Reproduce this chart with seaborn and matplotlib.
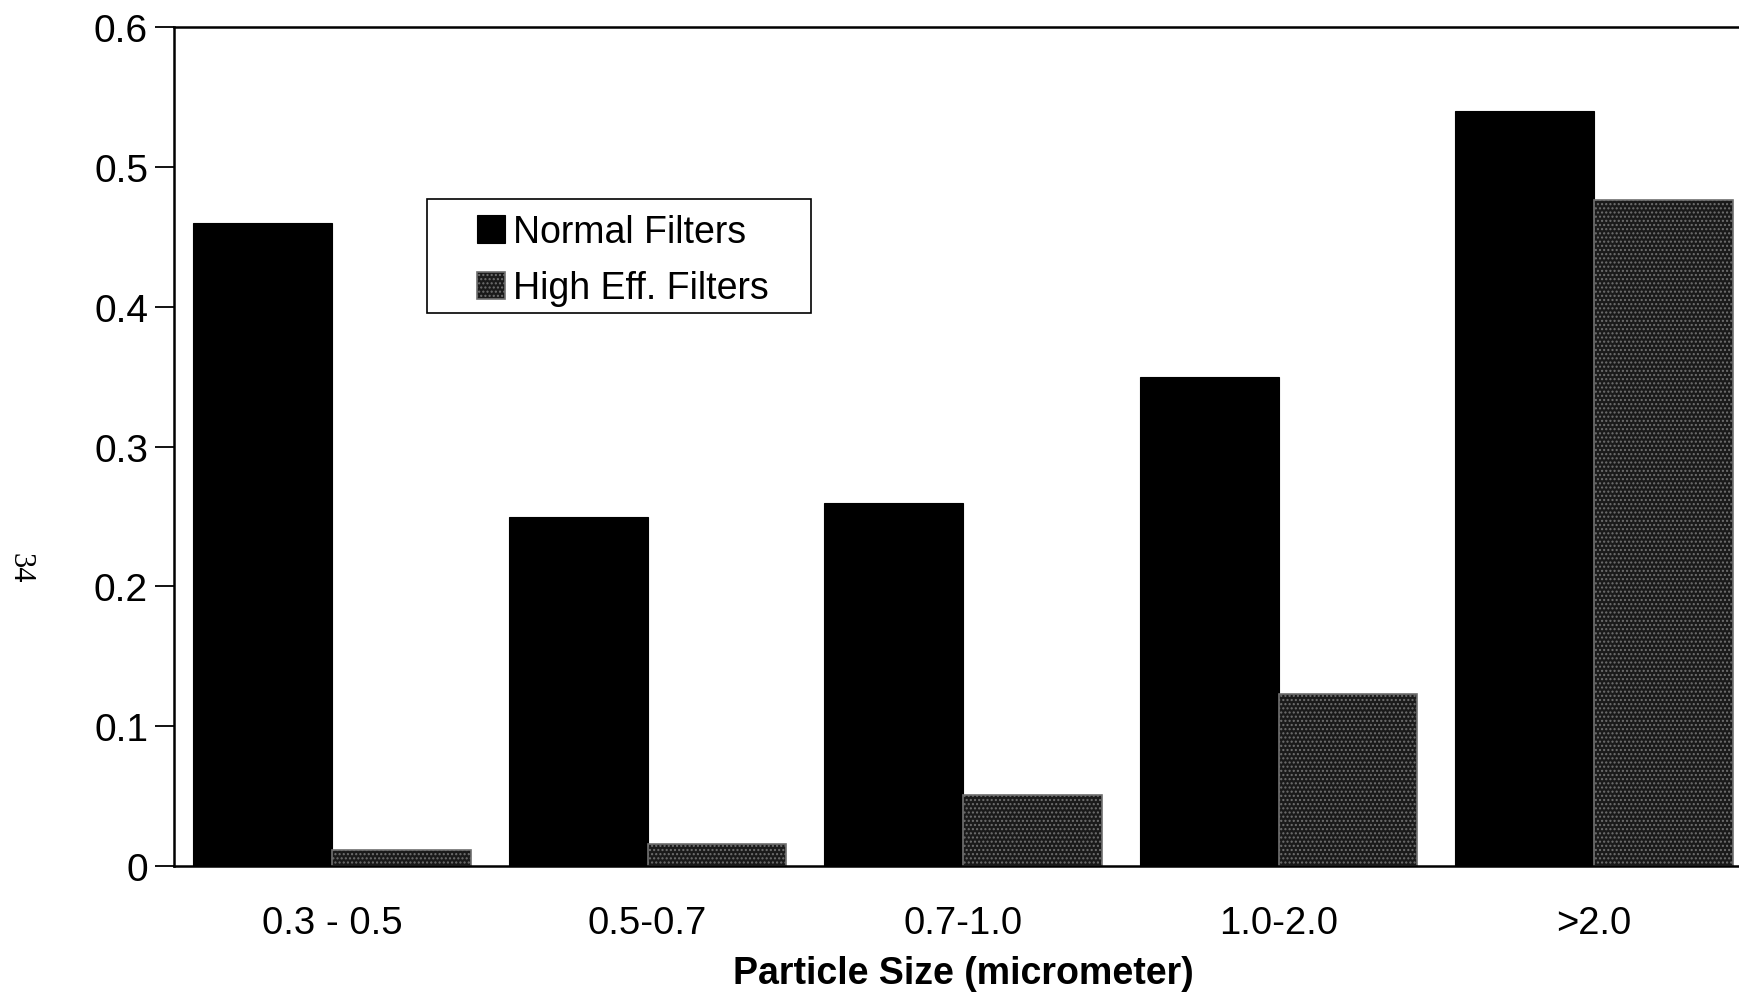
import matplotlib
matplotlib.use("Agg")
import matplotlib.pyplot as plt
from matplotlib.patches import Rectangle
import seaborn as sns
import pandas as pd

categories = ["0.3 - 0.5", "0.5-0.7", "0.7-1.0", "1.0-2.0", ">2.0"]
normal_filters = [0.46, 0.25, 0.26, 0.35, 0.54]
high_eff_filters = [0.012, 0.016, 0.051, 0.123, 0.476]
series_names = ["Normal Filters", "High Eff. Filters"]
y_ticks = [0, 0.1, 0.2, 0.3, 0.4, 0.5, 0.6]
y_tick_labels = ["0", "0.1", "0.2", "0.3", "0.4", "0.5", "0.6"]

sns.set_theme(style="white")
plt.rcParams["font.family"] = ["Liberation Sans", "DejaVu Sans"]
plt.rcParams["text.color"] = "black"

df = pd.DataFrame({
    "size": categories * 2,
    "value": normal_filters + high_eff_filters,
    "filter": [series_names[0]] * len(categories) + [series_names[1]] * len(categories),
})

fig = plt.figure(figsize=(17.39, 9.95), dpi=100)
ax = fig.add_axes([0.1003, 0.1283, 0.907, 0.8438])

sns.barplot(data=df, x="size", y="value", hue="filter", hue_order=series_names,
            order=categories, palette=["#000000", "#1a1a1a"], saturation=1,
            width=0.88, gap=0, ax=ax, edgecolor="#000000", linewidth=0.8)

n = len(categories)
for i, p in enumerate(ax.patches):
    if n <= i < 2 * n:
        p.set_hatch("....")
        p.set_edgecolor("#707070")
        p.set_linewidth(1.2)

ax.set_xlim(-0.5, 4.5)
ax.set_ylim(0, 0.6)
ax.set_yticks(y_ticks)
ax.set_yticklabels(y_tick_labels)
ax.tick_params(axis="y", which="both", left=True, length=14, width=1.3, color="black",
               labelsize=28, pad=5, direction="out")
ax.tick_params(axis="x", length=0, labelsize=27.5, pad=28)
for lab in ax.get_xticklabels() + ax.get_yticklabels():
    lab.set_color("black")

ax.set_xlabel("Particle Size (micrometer)", fontsize=27, fontweight="bold", labelpad=10, color="black")
ax.set_ylabel("")

for side in ["left", "top", "bottom"]:
    ax.spines[side].set_visible(True)
    ax.spines[side].set_color("black")
    ax.spines[side].set_linewidth(1.8)
ax.spines["right"].set_visible(False)

if ax.get_legend() is not None:
    ax.get_legend().remove()
handles = [ax.patches[0], ax.patches[n]]
leg = ax.legend(handles, series_names, loc="center left", bbox_to_anchor=(0.192, 0.722),
                borderaxespad=0, borderpad=0, fontsize=27, frameon=False,
                handlelength=0.75, handleheight=0.75, handletextpad=0.2,
                labelspacing=0.55)
for t in leg.get_texts():
    t.set_color("black")
leg.set_zorder(6)
ax.add_patch(Rectangle((0.1604, 0.659), 0.4039 - 0.1604, 0.7948 - 0.659,
                       transform=ax.transAxes, facecolor="white", edgecolor="black",
                       linewidth=1.2, zorder=5, clip_on=False))

fig.text(0.0115, 0.429, "34", rotation=270, fontsize=22, ha="center", va="center",
         color="black", family=["Liberation Serif", "DejaVu Serif"])

fig.savefig("out.png", dpi=100, facecolor="white")
